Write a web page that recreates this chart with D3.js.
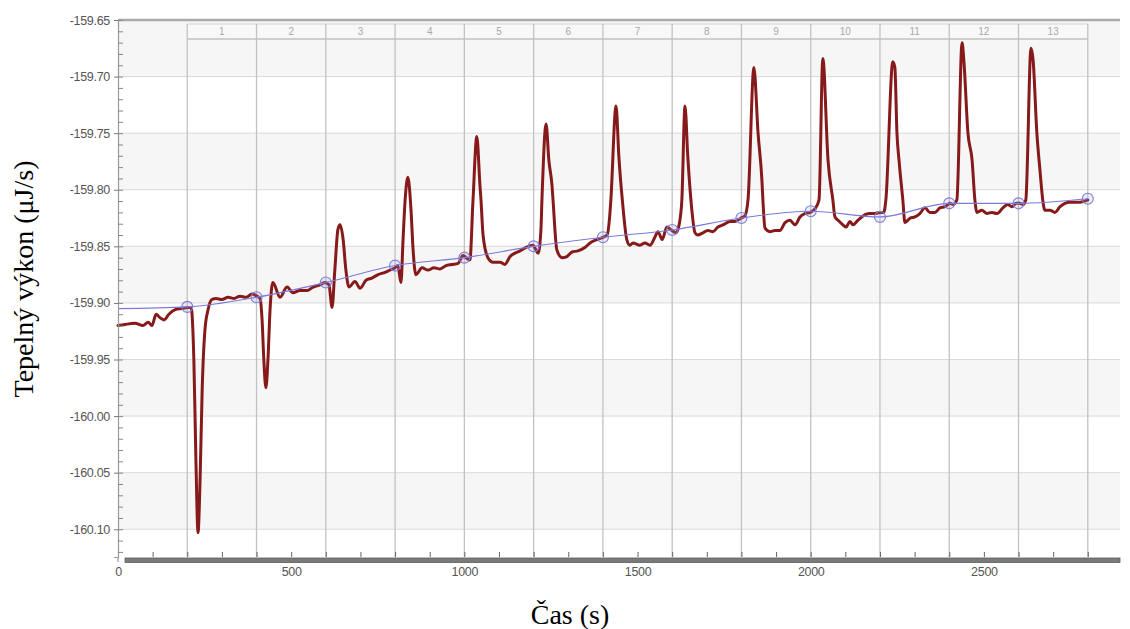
<!DOCTYPE html>
<html>
<head>
<meta charset="utf-8">
<script src="https://cdn.jsdelivr.net/npm/d3@7"></script>
<style>
  html, body { margin: 0; padding: 0; background: #ffffff; }
  svg { display: block; }
</style>
</head>
<body>
<svg id="chart" width="1130" height="629"></svg>
<script>
// ---------------- data ----------------
const timeS = [0,20,49,72,87,98,110,121,133,147,165,182,202,211,219,225,231,237,243,251,260,271,283,300,318,335,352,370,387,401,410,
416,421,427,433,439,447,468,488,505,525,546,563,583,598,609,
618,626,635,641,650,658,667,684,699,716,733,751,771,785,800,808,
817,823,829,837,846,852,860,878,895,912,930,947,964,982,996,1005,1016,
1025,1036,1045,1048,1054,1068,1083,1103,1117,1132,1146,1161,1178,1198,1213,1221,
1224,1236,1244,1253,1256,1267,1282,1296,1311,1328,1348,1363,1383,1400,1412,1420,
1423,1438,1446,1457,1469,1478,1487,1507,1521,1536,1550,1559,1571,1585,1599,1611,1620,
1628,1637,1645,1655,1666,1674,1689,1703,1718,1732,1747,1767,1781,1799,1810,
1819,1836,1848,1859,1862,1868,1882,1897,1911,1926,1940,1955,1969,1983,1998,2012,
2024,2035,2050,2064,2070,2079,2093,2102,2113,2122,2136,2157,2171,2185,2200,2211,
2217,2237,2243,2249,2255,2266,2272,2287,2301,2315,2330,2344,2359,2373,2388,2402,2411,
2422,2437,2442,2454,2466,2474,2480,2494,2509,2523,2538,2555,2569,2581,2593,2604,2613,
2621,2636,2642,2653,2662,2670,2676,2691,2705,2720,2734,2748,2763,2777,2800];

const powerUW = [-159.920,-159.919,-159.918,-159.920,-159.917,-159.920,-159.910,-159.913,-159.915,-159.910,-159.906,-159.905,-159.904,-159.904,-159.950,-160.039,-160.103,-160.056,-159.977,-159.924,-159.906,-159.897,-159.896,-159.897,-159.895,-159.896,-159.894,-159.895,-159.892,-159.894,-159.896,
-159.915,-159.950,-159.975,-159.950,-159.906,-159.882,-159.895,-159.886,-159.891,-159.889,-159.889,-159.886,-159.884,-159.882,-159.884,
-159.904,-159.871,-159.835,-159.831,-159.844,-159.871,-159.886,-159.881,-159.887,-159.880,-159.878,-159.875,-159.873,-159.871,-159.869,-159.867,
-159.882,-159.844,-159.809,-159.789,-159.818,-159.853,-159.875,-159.869,-159.871,-159.869,-159.870,-159.867,-159.866,-159.865,-159.858,-159.860,-159.862,
-159.809,-159.753,-159.796,-159.809,-159.840,-159.860,-159.864,-159.864,-159.866,-159.859,-159.856,-159.854,-159.851,-159.849,-159.856,-159.836,
-159.809,-159.742,-159.774,-159.796,-159.809,-159.853,-159.860,-159.859,-159.855,-159.854,-159.851,-159.847,-159.844,-159.842,-159.840,-159.822,
-159.809,-159.726,-159.770,-159.812,-159.844,-159.849,-159.847,-159.849,-159.847,-159.849,-159.842,-159.837,-159.844,-159.833,-159.836,-159.838,-159.831,
-159.809,-159.726,-159.770,-159.812,-159.838,-159.840,-159.838,-159.836,-159.837,-159.833,-159.831,-159.828,-159.828,-159.825,-159.823,
-159.809,-159.692,-159.750,-159.791,-159.809,-159.834,-159.837,-159.836,-159.836,-159.829,-159.827,-159.831,-159.824,-159.821,-159.820,-159.817,
-159.809,-159.684,-159.774,-159.809,-159.824,-159.827,-159.831,-159.833,-159.828,-159.831,-159.827,-159.822,-159.821,-159.821,-159.820,-159.820,
-159.809,-159.687,-159.692,-159.750,-159.774,-159.809,-159.829,-159.825,-159.824,-159.821,-159.816,-159.820,-159.820,-159.816,-159.815,-159.812,-159.813,
-159.809,-159.670,-159.685,-159.750,-159.774,-159.809,-159.820,-159.818,-159.821,-159.820,-159.821,-159.816,-159.813,-159.815,-159.812,-159.812,-159.813,
-159.809,-159.675,-159.685,-159.750,-159.783,-159.809,-159.818,-159.818,-159.820,-159.815,-159.812,-159.811,-159.811,-159.811,-159.809];

const baseT = [0,200,400,600,800,1000,1200,1400,1600,1800,2000,2200,2400,2600,2800];
const baseV = [-159.905,-159.9035,-159.895,-159.882,-159.867,-159.860,-159.850,-159.842,-159.8355,-159.825,-159.819,-159.824,-159.812,-159.812,-159.808];

const markT = [200,400,600,800,1000,1200,1400,1600,1800,2000,2200,2400,2600,2800];
const markV = [-159.9035,-159.895,-159.882,-159.867,-159.860,-159.850,-159.842,-159.8355,-159.825,-159.819,-159.824,-159.812,-159.812,-159.808];

const regionLabels = ["1","2","3","4","5","6","7","8","9","10","11","12","13"];
const regionBounds = [200,400,600,800,1000,1200,1400,1600,1800,2000,2200,2400,2600,2800];

const yTicks = [-159.65,-159.70,-159.75,-159.80,-159.85,-159.90,-159.95,-160.00,-160.05,-160.10];
const yMinor = d3.range(0, 48).map(i => -159.65 - i * 0.01);
const xTicks = [0,500,1000,1500,2000,2500];
const xMinor = d3.range(1, 29).map(i => i * 100);

const xTitle = "Čas (s)";
const yTitle = "Tepelný výkon (μJ/s)";

// ---------------- layout ----------------
const L = 118, R = 1120, T = 20, B = 557;
const svg = d3.select("#chart");

const x = d3.scaleLinear().domain([0, 2893]).range([L, R]);
const y = d3.scaleLinear().domain([-160.1245, -159.65]).range([B, T]);

// background bands
const bandEdges = d3.range(0, 10).map(i => -159.65 - i * 0.05);
svg.append("rect").attr("x", L).attr("y", T).attr("width", R - L).attr("height", B - T).attr("fill", "#ffffff");
svg.append("g").selectAll("rect")
  .data(bandEdges.filter((d, i) => i % 2 === 0))
  .join("rect")
  .attr("x", L).attr("width", R - L)
  .attr("y", d => y(d))
  .attr("height", d => y(d - 0.05) - y(d))
  .attr("fill", "#f6f6f6");

// horizontal grid
svg.append("g").selectAll("line")
  .data(yTicks.slice(1))
  .join("line")
  .attr("x1", L).attr("x2", R)
  .attr("y1", d => y(d)).attr("y2", d => y(d))
  .attr("stroke", "#dadada").attr("stroke-width", 1);

// region header strip
const stripTop = 24, stripBot = 39;
svg.append("rect")
  .attr("x", x(regionBounds[0])).attr("y", stripTop)
  .attr("width", x(regionBounds[regionBounds.length - 1]) - x(regionBounds[0]))
  .attr("height", stripBot - stripTop)
  .attr("fill", "#f8f8f8");
svg.append("line")
  .attr("x1", x(regionBounds[0])).attr("x2", x(regionBounds[regionBounds.length - 1]))
  .attr("y1", stripTop).attr("y2", stripTop)
  .attr("stroke", "#d2d2d2").attr("stroke-width", 1);
svg.append("line")
  .attr("x1", x(regionBounds[0])).attr("x2", x(regionBounds[regionBounds.length - 1]))
  .attr("y1", stripBot).attr("y2", stripBot)
  .attr("stroke", "#cfcfcf").attr("stroke-width", 2);

// vertical region boundaries
svg.append("g").selectAll("line")
  .data(regionBounds)
  .join("line")
  .attr("x1", d => x(d)).attr("x2", d => x(d))
  .attr("y1", stripTop).attr("y2", B)
  .attr("stroke", "#c2c2c2").attr("stroke-width", 1.3);

svg.append("g").selectAll("text")
  .data(regionLabels)
  .join("text")
  .attr("x", (d, i) => (x(regionBounds[i]) + x(regionBounds[i + 1])) / 2)
  .attr("y", (stripTop + stripBot) / 2 + 3.5)
  .attr("text-anchor", "middle")
  .attr("font-family", "Liberation Sans, Arial, sans-serif")
  .attr("font-size", 10)
  .attr("fill", "#a8a8a8")
  .text(d => d);

// top border
svg.append("line")
  .attr("x1", L).attr("x2", R).attr("y1", T).attr("y2", T)
  .attr("stroke", "#aaaaaa").attr("stroke-width", 2.5);

// data line
const line = d3.line()
  .x((d, i) => x(timeS[i]))
  .y(d => y(d))
  .curve(d3.curveMonotoneX);

svg.append("path")
  .datum(powerUW)
  .attr("d", line)
  .attr("fill", "none")
  .attr("stroke", "#861a1a")
  .attr("stroke-width", 3)
  .attr("stroke-linejoin", "round")
  .attr("stroke-linecap", "round");

// baseline
const bline = d3.line()
  .x((d, i) => x(baseT[i]))
  .y(d => y(d))
  .curve(d3.curveMonotoneX);
svg.append("path")
  .datum(baseV)
  .attr("d", bline)
  .attr("fill", "none")
  .attr("stroke", "#7a7ad8")
  .attr("stroke-width", 1.1);

svg.append("g").selectAll("circle")
  .data(markV)
  .join("circle")
  .attr("cx", (d, i) => x(markT[i]))
  .attr("cy", d => y(d))
  .attr("r", 5.5)
  .attr("fill", "rgba(150,150,230,0.18)")
  .attr("stroke", "#7f7fd8")
  .attr("stroke-width", 1.1);

// y axis
const fmt = d => d.toFixed(2);
const yAxis = svg.append("g")
  .attr("transform", `translate(${L},0)`)
  .call(d3.axisLeft(y).tickValues(yTicks).tickFormat(fmt).tickSize(4).tickPadding(4));
yAxis.select(".domain").attr("stroke", "#9a9a9a").attr("stroke-width", 1.2);
yAxis.selectAll(".tick line").attr("stroke", "#777");
yAxis.selectAll("text")
  .attr("font-family", "Liberation Sans, Arial, sans-serif")
  .attr("font-size", 12.5)
  .attr("fill", "#555")
  .attr("letter-spacing", "-0.3");

const yMinorAxis = svg.append("g")
  .attr("transform", `translate(${L},0)`)
  .call(d3.axisRight(y).tickValues(yMinor).tickFormat("").tickSize(5));
yMinorAxis.select(".domain").remove();
yMinorAxis.selectAll(".tick line").attr("stroke", "#888");

// x axis bar
svg.append("rect")
  .attr("x", L + 7).attr("y", B + 1)
  .attr("width", R - L - 7).attr("height", 4.5)
  .attr("fill", "#7a7a7a").attr("stroke", "#5c5c5c").attr("stroke-width", 0.8);

const xMinorAxis = svg.append("g")
  .attr("transform", `translate(0,${B})`)
  .call(d3.axisBottom(x).tickValues(xMinor).tickFormat("").tickSize(-5));
xMinorAxis.select(".domain").remove();
xMinorAxis.selectAll(".tick line").attr("stroke", "#666").attr("stroke-width", 1);

const xAxis = svg.append("g")
  .attr("transform", `translate(0,${B})`)
  .call(d3.axisBottom(x).tickValues(xTicks).tickFormat(d3.format("d")).tickSize(0).tickPadding(10));
xAxis.select(".domain").remove();
xAxis.selectAll("text")
  .attr("font-family", "Liberation Sans, Arial, sans-serif")
  .attr("font-size", 12.5)
  .attr("fill", "#555")
  .attr("letter-spacing", "-0.3");

svg.append("line")
  .attr("x1", L).attr("x2", L).attr("y1", B).attr("y2", B + 5)
  .attr("stroke", "#9a9a9a").attr("stroke-width", 1.2);

// titles
svg.append("text")
  .attr("x", 570).attr("y", 624)
  .attr("text-anchor", "middle")
  .attr("font-family", "Liberation Serif, Times New Roman, serif")
  .attr("font-size", 28)
  .attr("fill", "#000")
  .text(xTitle);

svg.append("text")
  .attr("transform", "translate(33,279) rotate(-90)")
  .attr("text-anchor", "middle")
  .attr("font-family", "Liberation Serif, Times New Roman, serif")
  .attr("font-size", 28)
  .attr("fill", "#000")
  .text(yTitle);
</script>
</body>
</html>
